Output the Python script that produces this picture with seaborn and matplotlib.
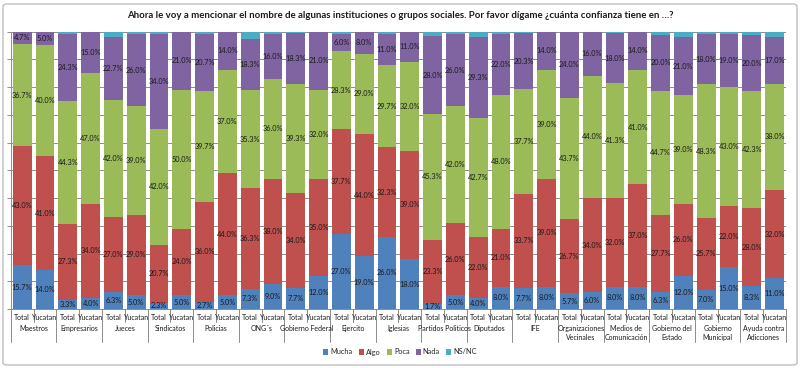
import numpy as np
import pandas as pd
import matplotlib
matplotlib.use("Agg")
import matplotlib.pyplot as plt
import seaborn as sns
from matplotlib.patches import FancyBboxPatch, Patch
from matplotlib.lines import Line2D
from matplotlib.transforms import blended_transform_factory

groups = ["Maestros", "Empresarios", "Jueces", "Sindicatos", "Policias", "ONG´s",
          "Gobierno Federal", "Ejercito", "Iglesias", "Partidos Politicos", "Diputados",
          "IFE", "Organizaciones\nVecinales", "Medios de\nComunicación",
          "Gobierno del\nEstado", "Gobierno\nMunicipal", "Ayuda contra\nAdicciones"]
subs = ["Total", "Yucatan"]
series = ["Mucha", "Algo", "Poca", "Nada", "NS/NC"]
colors = ["#4F81BD", "#C0504D", "#9BBB59", "#8064A2", "#4BACC6"]

mucha = [15.7, 14.0, 3.3, 4.0, 6.3, 5.0, 2.3, 5.0, 2.7, 5.0, 7.3, 9.0, 7.7, 12.0, 27.0, 19.0,
         26.0, 18.0, 1.7, 5.0, 4.0, 8.0, 7.7, 8.0, 5.7, 6.0, 8.0, 8.0, 6.3, 12.0, 7.0, 15.0, 8.3, 11.0]
algo = [43.0, 41.0, 27.3, 34.0, 27.0, 29.0, 20.7, 24.0, 36.0, 44.0, 36.3, 38.0, 34.0, 35.0, 37.7, 44.0,
        32.3, 39.0, 23.3, 26.0, 22.0, 21.0, 33.7, 39.0, 26.7, 34.0, 32.0, 37.0, 27.7, 26.0, 25.7, 22.0, 28.0, 32.0]
poca = [36.7, 40.0, 44.3, 47.0, 42.0, 39.0, 42.0, 50.0, 39.7, 37.0, 35.3, 36.0, 39.3, 32.0, 28.3, 29.0,
        29.7, 32.0, 45.3, 42.0, 42.7, 48.0, 37.7, 39.0, 43.7, 44.0, 41.3, 41.0, 44.7, 39.0, 48.3, 43.0, 42.3, 38.0]
nada = [4.7, 5.0, 24.3, 15.0, 22.7, 26.0, 34.0, 21.0, 20.7, 14.0, 18.3, 16.0, 18.3, 21.0, 6.0, 8.0,
        11.0, 11.0, 28.0, 26.0, 29.3, 22.0, 20.3, 14.0, 24.0, 16.0, 18.0, 14.0, 20.0, 21.0, 18.0, 19.0, 20.0, 17.0]
nsnc = [0.0, 0.0, 0.8, 0.0, 2.0, 1.0, 1.0, 0.0, 0.9, 0.0, 2.8, 1.0, 0.7, 0.0, 1.0, 0.0,
        1.0, 0.0, 1.7, 1.0, 2.0, 1.0, 0.6, 0.0, 0.0, 0.0, 0.7, 0.0, 1.3, 2.0, 1.0, 1.0, 1.4, 2.0]

sns.set_style("white")
plt.rcParams["font.family"] = ["Lato", "DejaVu Sans"]

bar_ids = [f"{g}|{s}" for g in groups for s in subs]
df = pd.DataFrame({"bar": bar_ids, "Mucha": mucha, "Algo": algo, "Poca": poca,
                   "Nada": nada, "NS/NC": nsnc})
cum = df[series].cumsum(axis=1)

W, H = 800, 368
fig = plt.figure(figsize=(8, 3.68), dpi=100)
ax_left, ax_right = 10.8, 786.0
ax_top, ax_bot = 31.5, 309.0
ax = fig.add_axes([ax_left / W, 1 - ax_bot / H, (ax_right - ax_left) / W, (ax_bot - ax_top) / H])

# stacked bars: draw cumulative layers from the top series down
for s, c in reversed(list(zip(series, colors))):
    sns.barplot(x=df["bar"], y=cum[s], color=c, width=0.83, ax=ax,
                order=bar_ids, saturation=1, edgecolor="none", zorder=2)

ax.set_ylim(0, 100)
ax.set_xlim(-0.5, len(bar_ids) - 0.5)
ax.set_yticks(np.arange(0, 101, 10))
ax.yaxis.grid(True, color="#8c8c8c", linewidth=0.7, zorder=0)
ax.set_axisbelow(True)
ax.set_yticklabels([])
ax.tick_params(axis="y", length=3, width=0.7, color="#8c8c8c", left=True)
ax.set_xticks([])
ax.set_xlabel("")
ax.set_ylabel("")
for side in ["top", "right"]:
    ax.spines[side].set_visible(False)
ax.spines["left"].set_color("#8c8c8c")
ax.spines["left"].set_linewidth(0.7)
ax.spines["bottom"].set_color("#8c8c8c")
ax.spines["bottom"].set_linewidth(0.7)

# data labels
for i in range(len(bar_ids)):
    base = 0.0
    for s in series[:4]:
        v = df.loc[i, s]
        ax.text(i, base + v / 2, f"{v:.1f}%", ha="center", va="center",
                fontsize=5.3, color="#1a1a1a", zorder=5)
        base += v

# category axis labels and separators
trans = blended_transform_factory(ax.transData, ax.transAxes)
axh = ax_bot - ax_top
def fy(px):
    return -(px - ax_bot) / axh

for i, b in enumerate(bar_ids):
    g, s = b.split("|")
    ax.text(i, fy(318), s, transform=trans, ha="center", va="center",
            fontsize=5, color="#1a1a1a")
for gi, g in enumerate(groups):
    ax.text(gi * 2 + 0.5, fy(325), g, transform=trans, ha="center", va="top",
            fontsize=5, color="#1a1a1a", linespacing=1.35)
for k in range(len(bar_ids) + 1):
    x = k - 0.5
    bottom = fy(342) if k % 2 == 0 else fy(322)
    ax.add_line(Line2D([x, x], [0, bottom], transform=trans, color="#8c8c8c",
                       linewidth=0.7, clip_on=False))

# title
fig.text(0.5, 1 - 15 / H,
         "Ahora le voy a mencionar el nombre de algunas instituciones o grupos sociales. "
         "Por favor dígame ¿cuánta confianza tiene en …?",
         ha="center", va="center", fontsize=6.9, fontweight="bold", color="#1a1a1a")

# legend
handles = [Patch(facecolor=c, edgecolor="none") for c in colors]
fig.legend(handles, series, loc="center", bbox_to_anchor=(0.5, 1 - 352 / H), ncol=5,
           frameon=False, fontsize=5.3, handlelength=0.7, handleheight=0.7,
           handletextpad=0.3, columnspacing=0.8, borderaxespad=0)

# outer chart border
fig.patches.append(FancyBboxPatch((3 / W, 3 / H), 794 / W, 361 / H,
                                  boxstyle="round,pad=0,rounding_size=0.006",
                                  transform=fig.transFigure, facecolor="none",
                                  edgecolor="#bfbfbf", linewidth=1.0))

fig.savefig("out.png", dpi=100)
